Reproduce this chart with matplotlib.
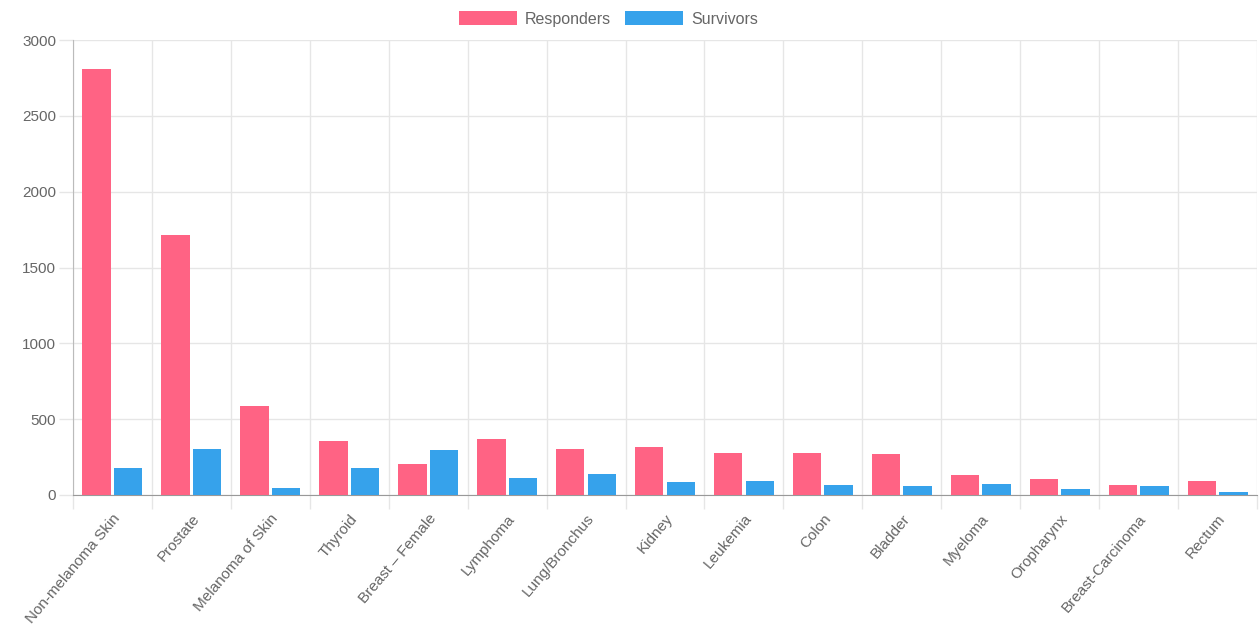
import matplotlib.pyplot as plt
import matplotlib.transforms as mtransforms
import numpy as np

plt.rcParams['font.family'] = ['Liberation Sans', 'DejaVu Sans']

cancers = ['Non-melanoma Skin', 'Prostate', 'Melanoma of Skin', 'Thyroid',
           'Breast \u2013 Female', 'Lymphoma', 'Lung/Bronchus', 'Kidney',
           'Leukemia', 'Colon', 'Bladder', 'Myeloma', 'Oropharynx',
           'Breast-Carcinoma', 'Rectum']
responders = [2810, 1712, 588, 357, 202, 366, 303, 314, 276, 276, 268, 129, 103, 66, 94]
survivors = [176, 303, 48, 176, 294, 110, 138, 83, 94, 66, 57, 74, 39, 57, 20]

pink = '#FF6384'
blue = '#36A2EB'
grid_c = '#e6e6e6'
text_c = '#666666'

fig = plt.figure(figsize=(12.6, 6.27), dpi=100)
ax = fig.add_axes([73/1260, 1 - 495/627, (1257-73)/1260, (495-40)/627])

x = np.arange(len(cancers))
w = 0.36
ax.bar(x - 0.2, responders, w, color=pink, label='Responders', zorder=3)
ax.bar(x + 0.2, survivors, w, color=blue, label='Survivors', zorder=3)

ax.set_xlim(-0.5, len(cancers) - 0.5)
ax.set_ylim(0, 3000)
ax.set_yticks(np.arange(0, 3001, 500))
ax.set_xticks(x)
ax.set_xticklabels(cancers, rotation=50, ha='right', va='top',
                   rotation_mode='anchor', color=text_c, fontsize=11)
ax.set_xticks(np.arange(-0.5, len(cancers), 1), minor=True)

# nudge labels so they end at the category centre like the original
shift = mtransforms.ScaledTranslation(-6/100, 3/100, fig.dpi_scale_trans)
for lab in ax.get_xticklabels():
    lab.set_transform(lab.get_transform() + shift)

ax.tick_params(axis='x', which='major', length=0, pad=12)
ax.tick_params(axis='x', which='minor', length=10, color=grid_c, width=1)
ax.tick_params(axis='y', length=10, color=grid_c, width=1, labelcolor=text_c,
               labelsize=11, pad=2)

ax.grid(True, axis='y', color=grid_c, linewidth=1, zorder=0)
ax.grid(True, axis='x', which='minor', color=grid_c, linewidth=1, zorder=0)

for s in ['top', 'right']:
    ax.spines[s].set_visible(False)
ax.spines['left'].set_color('#bbbbbb')
ax.spines['bottom'].set_color('#999999')

leg = fig.legend(loc='upper center', bbox_to_anchor=(0.483, 1.005), ncol=2,
                 frameon=False, fontsize=11.5, handlelength=3.6, handleheight=0.95,
                 columnspacing=0.9, handletextpad=0.5)
for t in leg.get_texts():
    t.set_color(text_c)

fig.savefig('out.png', dpi=100)
